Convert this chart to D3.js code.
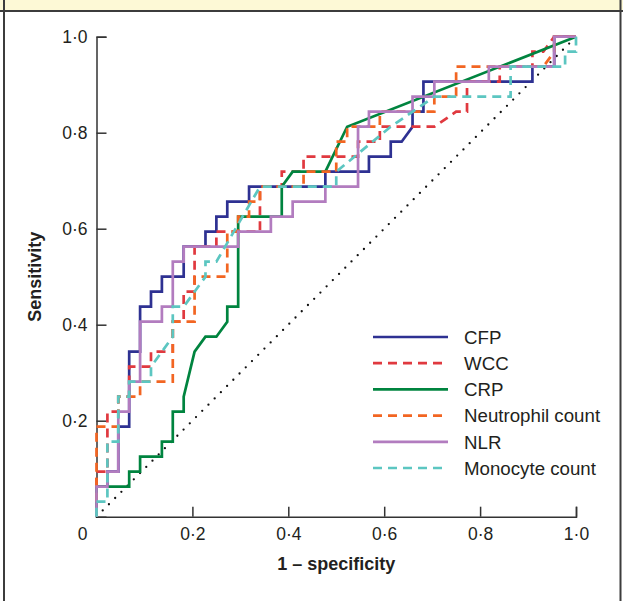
<!DOCTYPE html>
<html>
<head>
<meta charset="utf-8">
<script src="https://cdn.jsdelivr.net/npm/d3@7"></script>
<style>
  body { margin: 0; background: #fff; }
  svg { display: block; font-family: "Liberation Sans", Arial, sans-serif; }
</style>
</head>
<body>
<svg id="chart" width="623" height="601"></svg>
<script>
// ROC points as [false positives, true positives]
// (44 negatives, 32 positives)
const NEG = 44, POS = 32;

const cfp = [[0,0],[0,2],[1,2],[1,3],[2,3],[2,6],[3,6],[3,11],[4,11],[4,14],[5,14],[5,15],[6,15],[6,16],[8,16],[8,18],[10,18],[10,19],[11,19],[11,20],[12,20],[12,21],[14,21],[14,22],[21,22],[21,23],[25,23],[25,24],[27,24],[27,25],[28,25],[29,26],[29,27],[30,27],[30,29],[40,29],[40,30],[42,30],[42,32],[44,32]];
const wcc = [[0,0],[0,3],[1,3],[1,7],[2,7],[2,8],[3,8],[3,10],[5,10],[5,11],[7,11],[7,13],[8,13],[8,15],[9,15],[9,18],[11,18],[11,19],[15,19],[15,22],[17,22],[17,23],[19,23],[19,24],[24,24],[24,25],[26,25],[26,26],[31,26],[33,27],[34,27],[34,29],[37,29],[37,30],[40,30],[40,31],[41,31],[42,32],[44,32]];
const crp = [[0,0],[0,2],[3,2],[3,3],[4,3],[4,4],[6,4],[6,5],[7,5],[7,7],[8,7],[8,8],[9,11],[10,12],[11,12],[12,13],[12,14],[13,14],[13,20],[17,20],[17,22],[18,23],[21,23],[23,26],[44,32]];
const neutrophil = [[0,0],[0,6],[2,6],[2,8],[4,8],[4,9],[7,9],[7,13],[9,13],[9,16],[12,16],[12,19],[13,19],[13,20],[14,20],[14,21],[15,21],[15,22],[19,22],[19,23],[22,23],[22,25],[23,25],[23,26],[26,26],[26,27],[31,27],[31,28],[33,28],[33,30],[41,30],[42,31],[42,32],[44,32]];
const nlr = [[0,0],[0,2],[1,2],[1,3],[2,3],[2,7],[3,7],[3,9],[4,9],[4,13],[6,13],[6,14],[7,14],[7,17],[8,17],[8,18],[13,18],[13,19],[16,19],[16,20],[18,20],[18,21],[21,21],[21,22],[24,22],[24,26],[25,26],[25,27],[29,27],[29,28],[31,28],[31,29],[36,29],[36,30],[42,30],[42,32],[44,32]];
const monocyte = [[0,0],[0,1],[1,1],[1,5],[2,5],[2,8],[3,8],[3,9],[5,9],[5,10],[7,12],[7,14],[8,14],[10,16],[10,17],[11,17],[15,22],[22,22],[22,23],[27,26],[31,28],[38,28],[38,30],[43,30],[43,31],[44,31],[44,32]];

const seriesNames = ["CFP", "WCC", "CRP", "Neutrophil count", "NLR", "Monocyte count"];
const seriesPoints = [cfp, wcc, crp, neutrophil, nlr, monocyte];
const seriesColors = ["#2e3192", "#e0393f", "#00843f", "#f26522", "#b27cbf", "#5cc6c1"];
const seriesDashed = [false, true, false, true, false, true];

const tickValues = [0.2, 0.4, 0.6, 0.8, 1.0];

const svg = d3.select("#chart");
const W = 623, H = 601;

// frame: yellow band on top, dark rules
svg.append("rect").attr("x", 0).attr("y", 0).attr("width", W).attr("height", 11).attr("fill", "#fdf9d6");
svg.append("line").attr("x1", 0).attr("x2", W).attr("y1", 11).attr("y2", 11).attr("stroke", "#3c3c3c").attr("stroke-width", 2);
svg.append("line").attr("x1", 4).attr("x2", 4).attr("y1", 0).attr("y2", H).attr("stroke", "#3c3c3c").attr("stroke-width", 2);
svg.append("line").attr("x1", 620.5).attr("x2", 620.5).attr("y1", 0).attr("y2", H).attr("stroke", "#3c3c3c").attr("stroke-width", 2);

const x = d3.scaleLinear().domain([0, 1]).range([96.5, 576]);
const y = d3.scaleLinear().domain([0, 1]).range([516.7, 36.7]);

const fmt = d => d3.format(".1f")(d).replace(".", "\u00b7");

const xAxis = d3.axisBottom(x).tickValues(tickValues).tickSizeInner(-10).tickSizeOuter(-10).tickPadding(11).tickFormat(fmt);
const yAxis = d3.axisLeft(y).tickValues(tickValues).tickSizeInner(-10).tickSizeOuter(-10).tickPadding(9).tickFormat(fmt);

const gx = svg.append("g").attr("transform", `translate(0,${y(0)})`).call(xAxis);
const gy = svg.append("g").attr("transform", `translate(${x(0)},0)`).call(yAxis);

[gx, gy].forEach(g => {
  g.selectAll("path, line").attr("stroke", "#333").attr("stroke-width", 1.5);
  g.selectAll("text").attr("font-size", 17.5).attr("fill", "#231f20").attr("font-family", "Liberation Sans, Arial, sans-serif");
});

// origin label
svg.append("text").attr("x", x(0) - 14).attr("y", y(0) + 11).attr("dy", "0.71em")
  .attr("text-anchor", "middle").attr("font-size", 17.5).attr("fill", "#231f20").text("0");

// axis titles
svg.append("text").attr("x", (x(0) + x(1)) / 2).attr("y", 570)
  .attr("text-anchor", "middle").attr("font-size", 18).attr("font-weight", "bold").attr("fill", "#231f20")
  .text("1 \u2013 specificity");
svg.append("text").attr("transform", `translate(41,${(y(0) + y(1)) / 2}) rotate(-90)`)
  .attr("text-anchor", "middle").attr("font-size", 18).attr("font-weight", "bold").attr("fill", "#231f20")
  .text("Sensitivity");

// chance line
svg.append("line")
  .attr("x1", x(0)).attr("y1", y(0)).attr("x2", x(1)).attr("y2", y(1))
  .attr("stroke", "#111").attr("stroke-width", 2.3)
  .attr("stroke-dasharray", "0 8.8").attr("stroke-linecap", "round");

const line = d3.line()
  .x(d => x(d[0] / NEG))
  .y(d => y(d[1] / POS));

seriesPoints.forEach((pts, i) => {
  svg.append("path")
    .datum(pts)
    .attr("d", line)
    .attr("fill", "none")
    .attr("stroke", seriesColors[i])
    .attr("stroke-width", 2.7)
    .attr("stroke-dasharray", seriesDashed[i] ? "9 6" : null);
});

// legend
const legend = svg.append("g").attr("transform", "translate(373,337)");
const rows = legend.selectAll("g").data(seriesNames).join("g")
  .attr("transform", (d, i) => `translate(0,${i * 26.2})`);
rows.append("line").attr("x1", 0).attr("x2", 75).attr("y1", 0).attr("y2", 0)
  .attr("stroke", (d, i) => seriesColors[i]).attr("stroke-width", 2.7)
  .attr("stroke-dasharray", (d, i) => seriesDashed[i] ? "9 6" : null);
rows.append("text").attr("x", 91).attr("y", 0).attr("dy", "0.36em")
  .attr("font-size", 18.7).attr("fill", "#231f20").text(d => d);
</script>
</body>
</html>
